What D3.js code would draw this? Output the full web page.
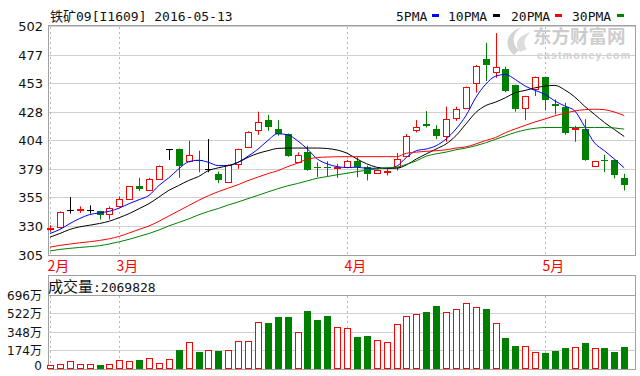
<!DOCTYPE html>
<html>
<head>
<meta charset="utf-8">
<script src="https://cdn.jsdelivr.net/npm/d3@7"></script>
<style>
  html, body { margin: 0; padding: 0; background: #fff; }
  svg { display: block; }
</style>
</head>
<body>
<svg id="chart" width="640" height="376"></svg>
<script>
// Trading days of the I1609 iron ore contract, Feb 19 – May 13, 2016
const dates = [
  "2016-02-19","2016-02-22","2016-02-23","2016-02-24","2016-02-25","2016-02-26","2016-02-29",
  "2016-03-01","2016-03-02","2016-03-03","2016-03-04","2016-03-07","2016-03-08","2016-03-09",
  "2016-03-10","2016-03-11","2016-03-14","2016-03-15","2016-03-16","2016-03-17","2016-03-18",
  "2016-03-21","2016-03-22","2016-03-23","2016-03-24","2016-03-25","2016-03-28","2016-03-29",
  "2016-03-30","2016-03-31",
  "2016-04-01","2016-04-05","2016-04-06","2016-04-07","2016-04-08","2016-04-11","2016-04-12",
  "2016-04-13","2016-04-14","2016-04-15","2016-04-18","2016-04-19","2016-04-20","2016-04-21",
  "2016-04-22","2016-04-25","2016-04-26","2016-04-27","2016-04-28","2016-04-29",
  "2016-05-03","2016-05-04","2016-05-05","2016-05-06","2016-05-09","2016-05-10","2016-05-11",
  "2016-05-12","2016-05-13"
];

const open = [
  327.6, 328.7, 343.5, 343.6, 343.5, 342.6, 340.6, 346.9, 353.5, 364.0,
  360.6, 370.5, 396.2, 396.2, 385.6, 386.8, 379.1, 374.8, 367.6, 383.4,
  397.6, 412.4, 421.2, 413.3, 409.0, 384.7, 393.3, 380.6, 381.0, 379.6,
  380.5, 386.2, 380.5, 375.7, 376.6, 380.5, 390.5, 412.4, 417.3, 413.3,
  407.0, 423.2, 431.7, 452.6, 474.0, 462.5, 464.6, 451.2, 431.7, 447.5,
  458.0, 434.8, 432.4, 413.2, 413.8, 381.9, 386.6, 386.8, 371.4
];
const high = [
  330.6, 342.5, 354.8, 346.9, 347.7, 343.0, 346.9, 355.5, 364.5, 371.4,
  371.4, 382.0, 396.2, 396.5, 403.3, 394.7, 404.7, 376.8, 383.0, 396.5,
  411.5, 428.3, 425.5, 421.0, 409.5, 393.3, 399.0, 384.7, 385.6, 383.4,
  386.8, 389.0, 381.9, 378.8, 379.1, 392.8, 409.0, 421.2, 428.9, 416.7,
  432.6, 432.6, 450.0, 468.5, 487.5, 495.9, 467.0, 451.5, 442.0, 458.5,
  458.5, 438.9, 436.0, 416.1, 421.8, 386.0, 391.3, 387.2, 374.8
];
const low = [
  325.0, 328.0, 340.6, 341.2, 340.6, 335.5, 335.5, 346.0, 353.0, 360.0,
  360.0, 370.0, 386.8, 371.4, 384.7, 376.2, 376.2, 366.8, 367.0, 379.1,
  397.0, 408.4, 411.8, 407.6, 389.5, 384.0, 377.6, 371.9, 372.5, 371.4,
  380.0, 371.9, 369.1, 375.0, 373.4, 377.6, 390.0, 410.4, 414.7, 404.7,
  402.4, 420.4, 431.0, 444.6, 454.6, 457.4, 445.0, 428.3, 421.0, 441.8,
  429.5, 426.1, 408.5, 402.4, 386.0, 381.5, 376.2, 371.0, 360.5
];
const close = [
  328.3, 342.0, 343.5, 344.4, 343.5, 339.5, 345.8, 352.9, 364.0, 362.0,
  370.2, 381.3, 396.2, 381.9, 391.3, 385.8, 379.1, 369.7, 382.8, 396.2,
  411.2, 419.0, 414.7, 409.5, 390.5, 391.1, 378.2, 379.8, 380.2, 380.4,
  386.0, 380.5, 374.8, 378.2, 377.3, 387.6, 407.6, 415.3, 416.3, 407.6,
  421.8, 430.9, 449.7, 468.0, 468.8, 466.5, 446.0, 430.4, 441.8, 458.0,
  438.1, 433.6, 409.6, 414.4, 387.1, 385.6, 385.8, 373.4, 364.8
];

// Moving averages as published with the quote
const ma5 = [
  323.5, 327.0, 332.0, 336.4, 339.8, 341.2, 342.6, 345.4, 349.2, 352.6,
  356.3, 364.8, 371.4, 379.1, 385.2, 386.5, 384.7, 381.9, 381.9, 384.7,
  390.0, 396.0, 403.5, 409.3, 408.4, 403.3, 396.2, 387.6, 383.4, 381.0,
  380.3, 380.5, 379.6, 379.6, 379.6, 381.3, 389.0, 394.7, 396.2, 399.0,
  404.7, 413.3, 424.7, 440.3, 451.8, 458.8, 460.3, 456.0, 450.3, 446.6,
  443.2, 437.5, 433.2, 429.0, 415.5, 401.5, 394.7, 387.6, 380.0
];
const ma10 = [
  320.4, 323.5, 327.0, 329.2, 330.6, 332.1, 334.1, 337.2, 340.6, 344.9,
  349.2, 354.8, 360.6, 364.8, 369.1, 372.5, 377.6, 380.0, 381.9, 384.7,
  389.0, 392.4, 394.7, 396.7, 397.0, 397.0, 397.0, 397.0, 396.6, 395.3,
  392.6, 387.6, 383.4, 380.5, 379.6, 379.6, 382.5, 387.6, 391.9, 396.2,
  400.5, 407.6, 417.6, 427.5, 433.5, 436.5, 440.3, 444.6, 446.6, 448.8,
  450.3, 450.9, 447.0, 441.0, 433.0, 426.0, 419.0, 413.0, 407.0
];
const ma20 = [
  311.8, 313.3, 314.4, 315.5, 316.4, 317.5, 319.0, 321.0, 324.0, 327.0,
  330.0, 334.0, 338.5, 343.0, 347.5, 352.0, 356.0, 359.5, 362.5, 365.5,
  369.0, 372.0, 375.0, 377.5, 381.0, 384.0, 387.5, 388.8, 389.3, 389.5,
  389.6, 389.6, 389.6, 389.6, 389.6, 389.6, 392.5, 393.5, 394.2, 394.7,
  395.5, 397.0, 398.0, 400.5, 403.5, 406.0, 410.2, 413.5, 416.5, 419.5,
  422.0, 424.8, 427.0, 428.9, 430.0, 430.4, 430.0, 428.0, 425.0
];
const ma30 = [
  308.5, 309.8, 310.7, 311.5, 312.2, 313.0, 314.5, 316.4, 318.5, 321.0,
  323.5, 326.5, 330.0, 333.0, 336.0, 339.5, 342.5, 345.0, 348.0, 350.6,
  353.5, 356.3, 359.2, 362.0, 364.5, 366.5, 368.8, 371.0, 372.5, 374.0,
  375.3, 376.7, 378.0, 379.0, 380.0, 380.5, 383.0, 386.0, 390.0, 392.0,
  393.5, 395.5, 397.0, 399.0, 401.5, 404.5, 407.5, 410.4, 412.6, 414.0,
  414.7, 414.7, 414.7, 414.7, 414.7, 414.7, 414.7, 414.3, 413.3
];

// Volume in units of 万 (10,000 lots)
const volume = [
  35, 41, 73, 41, 41, 32, 41, 83, 73, 79,
  98, 54, 92, 178, 254, 156, 178, 165, 178, 264,
  264, 438, 435, 486, 486, 350, 543, 461, 496, 397,
  384, 302, 311, 273, 254, 422, 496, 518, 534, 594,
  531, 565, 617, 581, 565, 432, 289, 213, 213, 159,
  143, 168, 191, 203, 241, 191, 191, 159, 206.9828
];

const priceTicks = [305, 330, 355, 379, 404, 428, 453, 477, 502];
const volumeTicks = [0, 174, 348, 522, 696];
const volumeTickLabels = ["0", "174万", "348万", "522万", "696万"];
const maNames = ["5PMA", "10PMA", "20PMA", "30PMA"];
const maColors = ["#0000ff", "#000000", "#ff0000", "#008000"];
const maSeries = [ma5, ma10, ma20, ma30];
const contractTitle = "铁矿";
const contractCode = "09[I1609] 2016-05-13";
const volumeTitle = "成交量";

// ---- layout ----
const L = 48.5, R = 635.5;
const pTop = 26, pBot = 255;
const vTop = 275.5, vGridTop = 295, vBot = 368.5, vFrameBot = 369.5;
const UP = "#ff0000", DOWN = "#008000", FLAT = "#000000";

const svg = d3.select("#chart");

const x = d3.scalePoint().domain(dates).range([50, 624.2]);
const y = d3.scaleLinear().domain([305, 502]).range([pBot, pTop]);
const vy = d3.scaleLinear().domain([0, 696]).range([vBot, vGridTop]);

const bars = dates.map((d, i) => ({
  date: d, o: open[i], h: high[i], l: low[i], c: close[i], v: volume[i]
}));
const kind = d => d.c > d.o ? "up" : (d.c < d.o ? "down" : "flat");
const px = v => Math.round(v) + 0.5;

// ---- watermark ----
const wm = svg.append("g").attr("class", "watermark");
wm.append("path")
  .attr("d", "M514,55 C503,46 506,32 522,27 C512,33 511,44 519,50 Z")
  .attr("fill", "#d4d4d4");
wm.append("path")
  .attr("d", "M520,52 C514,44 517,36 531,32 C523,38 523,45 527,49 Z")
  .attr("fill", "#dcdcdc");
wm.append("text").attr("x", 533).attr("y", 43)
  .attr("font-family", "Noto Sans CJK SC").attr("font-weight", "bold")
  .attr("font-size", 18.5).attr("fill", "#cdcdcd").text("东方财富网");
wm.append("text").attr("x", 537).attr("y", 58.5)
  .attr("font-family", "Liberation Sans").attr("font-weight", "bold")
  .attr("font-size", 10.5).attr("letter-spacing", 1.2)
  .attr("fill", "#d0d0d0").text("eastmoney.com");

// ---- price panel grid ----
const grid = svg.append("g");
grid.selectAll("line.h").data(priceTicks).join("line")
  .attr("x1", L).attr("x2", R)
  .attr("y1", d => px(y(d))).attr("y2", d => px(y(d)))
  .attr("stroke", "#d0d0d0").attr("stroke-width", 1);

// month starts
const monthStarts = dates.filter((d, i) => i === 0 || d.slice(5, 7) !== dates[i - 1].slice(5, 7));
grid.selectAll("line.m").data(monthStarts).join("line")
  .attr("x1", d => px(x(d))).attr("x2", d => px(x(d)))
  .attr("y1", pTop + 1).attr("y2", pBot)
  .attr("stroke", "#b8b8b8").attr("stroke-dasharray", "2,3");
grid.selectAll("line.mv").data(monthStarts).join("line")
  .attr("x1", d => px(x(d))).attr("x2", d => px(x(d)))
  .attr("y1", vGridTop + 1).attr("y2", vBot)
  .attr("stroke", "#b8b8b8").attr("stroke-dasharray", "2,3");

// frames
svg.append("rect").attr("x", L).attr("y", px(pTop) - 1).attr("width", R - L)
  .attr("height", px(pBot) - px(pTop) + 1)
  .attr("fill", "none").attr("stroke", "#a0a0a0");
svg.append("rect").attr("x", L).attr("y", vTop).attr("width", R - L)
  .attr("height", vFrameBot - vTop)
  .attr("fill", "none").attr("stroke", "#a0a0a0");

// volume grid
svg.append("g").selectAll("line").data(volumeTicks.filter(t => t > 0)).join("line")
  .attr("x1", L).attr("x2", R)
  .attr("y1", d => px(vy(d))).attr("y2", d => px(vy(d)))
  .attr("stroke", d => d === 696 ? "#a0a0a0" : "#d0d0d0");

// ---- price axis ----
const yAxis = d3.axisLeft(y).tickValues(priceTicks).tickSize(0).tickPadding(0).tickFormat(d3.format("d"));
const ya = svg.append("g").attr("transform", "translate(43,0)").call(yAxis);
ya.select(".domain").remove();
ya.selectAll("text").attr("font-family", "DejaVu Sans").attr("font-size", 13)
  .attr("fill", "#111").attr("dy", "0.36em");

// ---- volume axis ----
const vAxis = d3.axisLeft(vy).tickValues(volumeTicks).tickSize(0).tickPadding(0)
  .tickFormat((d, i) => volumeTickLabels[i]);
const va = svg.append("g").attr("transform", "translate(42,0)").call(vAxis);
va.select(".domain").remove();
va.selectAll("text").attr("font-family", "DejaVu Sans, Noto Sans CJK SC").attr("font-size", 12)
  .attr("fill", "#111").attr("dy", "0.36em");
va.selectAll(".tick").filter(d => d === 0).select("text").attr("dy", "0.08em");

// ---- month labels ----
svg.append("g").selectAll("text").data(monthStarts).join("text")
  .attr("x", d => px(x(d)) - 3).attr("y", 270.5)
  .attr("font-family", "Noto Sans CJK SC").attr("font-size", 14)
  .attr("fill", "#ff0000")
  .text(d => (+d.slice(5, 7)) + "月");

// ---- candles ----
const cg = svg.append("g");
bars.forEach(d => {
  const cx = px(x(d.date));
  const k = kind(d);
  const yHi = y(d.h), yLo = y(d.l);
  const yTopB = y(Math.max(d.o, d.c)), yBotB = y(Math.min(d.o, d.c));
  if (k === "up") {
    const t = px(yTopB), b = Math.max(px(yBotB), t + 1);
    cg.append("line").attr("x1", cx).attr("x2", cx).attr("y1", yHi).attr("y2", t).attr("stroke", UP);
    cg.append("line").attr("x1", cx).attr("x2", cx).attr("y1", b).attr("y2", yLo).attr("stroke", UP);
    cg.append("rect").attr("x", cx - 3).attr("y", t).attr("width", 6).attr("height", b - t)
      .attr("fill", "#fff").attr("stroke", UP);
  } else if (k === "down") {
    const t = Math.round(yTopB), b = Math.max(Math.round(yBotB), t + 1);
    cg.append("line").attr("x1", cx).attr("x2", cx).attr("y1", yHi).attr("y2", yLo).attr("stroke", DOWN);
    cg.append("rect").attr("x", cx - 3.5).attr("y", t).attr("width", 7).attr("height", b - t)
      .attr("fill", DOWN);
  } else {
    const t = px(yTopB);
    cg.append("line").attr("x1", cx).attr("x2", cx).attr("y1", yHi).attr("y2", yLo).attr("stroke", FLAT);
    cg.append("line").attr("x1", cx - 3.5).attr("x2", cx + 3.5).attr("y1", t).attr("y2", t).attr("stroke", FLAT);
  }
});

// ---- moving averages ----
svg.append("clipPath").attr("id", "plotClip").append("rect")
  .attr("x", L).attr("y", pTop).attr("width", R - L).attr("height", pBot - pTop);
const line = d3.line().x((v, i) => x(dates[i])).y(v => y(v)).curve(d3.curveMonotoneX);
svg.append("g").attr("clip-path", "url(#plotClip)")
  .selectAll("path").data(maSeries).join("path")
  .attr("d", line).attr("fill", "none")
  .attr("stroke", (s, i) => maColors[i]).attr("stroke-width", 1);

// ---- volume bars ----
const vg = svg.append("g");
bars.forEach(d => {
  const cx = px(x(d.date));
  const k = kind(d);
  if (k === "down") {
    const t = Math.round(vy(d.v));
    vg.append("rect").attr("x", cx - 3.5).attr("y", t).attr("width", 7)
      .attr("height", Math.round(vBot) - t).attr("fill", DOWN);
  } else {
    const t = px(vy(d.v));
    vg.append("rect").attr("x", cx - 3).attr("y", t).attr("width", 6)
      .attr("height", Math.round(vBot) - 0.5 - t).attr("fill", "#fff").attr("stroke", UP);
  }
});

// ---- titles ----
const title = svg.append("text").attr("x", 50).attr("y", 21).attr("font-size", 13).attr("fill", "#111");
title.append("tspan").attr("font-family", "Noto Sans CJK SC").text(contractTitle);
title.append("tspan").attr("font-family", "DejaVu Sans Mono").text(contractCode);

const vt = svg.append("text").attr("x", 48).attr("y", 292).attr("fill", "#111");
vt.append("tspan").attr("font-family", "Noto Sans CJK SC").attr("font-size", 15).text(volumeTitle);
vt.append("tspan").attr("font-family", "DejaVu Sans Mono").attr("font-size", 13)
  .text(":" + Math.round(volume[volume.length - 1] * 10000));

// ---- legend ----
const legendTextX = [396, 448, 511, 572];
const legendDashX = [432, 493, 555, 617];
const lg = svg.append("g");
maNames.forEach((n, i) => {
  lg.append("text").attr("x", legendTextX[i]).attr("y", 20.5)
    .attr("font-family", "DejaVu Sans Mono").attr("font-size", 13).attr("fill", "#111").text(n);
  lg.append("rect").attr("x", legendDashX[i]).attr("y", 14).attr("width", 7).attr("height", 3)
    .attr("fill", maColors[i]);
});
</script>
</body>
</html>
